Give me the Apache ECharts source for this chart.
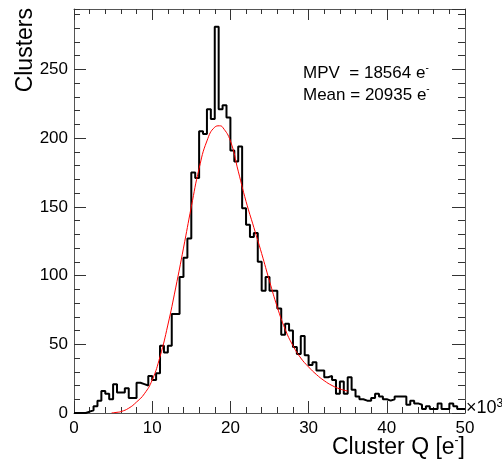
<!DOCTYPE html>
<html>
<head>
<meta charset="utf-8">
<script src="https://cdn.jsdelivr.net/npm/echarts@6/dist/echarts.min.js"></script>
<style>
  html, body { margin: 0; padding: 0; background: #fff; }
  #chart { width: 502px; height: 463px; }
</style>
</head>
<body>
<div id="chart"></div>
<script>
// Cluster charge spectrum: 100 bins of 500 e from 0 to 50 x10^3 e
const binLow = 0;
const binWidth = 0.5;
const counts = [
  0, 0, 0, 1, 2, 5, 9, 16, 14, 10,
  21, 15, 15, 18, 11, 11, 22, 21, 20, 27,
  24, 29, 49, 44, 49, 72, 72, 99, 113, 127,
  175, 171, 205, 203, 221, 214, 281, 221, 224, 215,
  191, 183, 194, 149, 137, 128, 131, 110, 89, 99,
  89, 89, 76, 57, 65, 60, 48, 43, 56, 42,
  35, 37, 31, 31, 26, 27, 24, 14, 23, 14,
  26, 17, 12, 10, 9, 9, 11, 14, 12, 10,
  9, 10, 12, 12, 12, 6, 9, 7, 6, 3,
  5, 3, 3, 7, 3, 3, 7, 5, 3, 3
];

// Fitted curve (x in 10^3 e, y in clusters)
const fitX = [4.8, 5.5, 6, 7, 8, 9, 10, 11, 12, 13, 14, 15, 16, 17, 18, 18.6, 19, 20, 21, 22, 23, 24, 25, 26, 27, 28, 29, 30, 31, 32, 33, 34, 35];
const fitY = [0, 0.5, 1, 3.5, 8, 14, 24, 41, 64, 91, 120, 150, 178, 198, 208, 209, 208, 198, 176, 154, 135, 116, 96, 77, 61, 49, 40, 33.5, 28, 23.5, 20, 17.5, 16];

const xTicksMajor = 10, xTicksMinor = 2, xMax = 50;
const yTicksMajor = 50, yTicksMinor = 10, yMax = 294;

const mpvText = 'MPV  = 18564 e';
const meanText = 'Mean = 20935 e';

const histData = counts.map((c, i) => [binLow + i * binWidth, c]);
histData.push([binLow + counts.length * binWidth, counts[counts.length - 1]]);
const fitData = fitX.map((x, i) => [x, fitY[i]]);

const FONT = '"Liberation Sans", Arial, Helvetica, sans-serif';
const lineCol = '#555';
const tickCol = '#333';

function xAxisDef(pos, interval, len, major) {
  return {
    type: 'value', position: pos, min: 0, max: xMax, interval: interval,
    axisLine: { show: major, onZero: false, lineStyle: { color: lineCol, width: 1 } },
    axisTick: { show: true, inside: true, length: len, lineStyle: { color: tickCol, width: 1 } },
    axisLabel: {
      show: major && pos === 'bottom', margin: 7, color: '#000',
      fontFamily: FONT, fontSize: 17
    },
    splitLine: { show: false }
  };
}
function yAxisDef(pos, interval, len, major) {
  return {
    type: 'value', position: pos, min: 0, max: yMax, interval: interval,
    axisLine: { show: major, onZero: false, lineStyle: { color: lineCol, width: 1 } },
    axisTick: { show: true, inside: true, length: len, lineStyle: { color: tickCol, width: 1 } },
    axisLabel: {
      show: major && pos === 'left', margin: 6, color: '#000', showMaxLabel: false,
      fontFamily: FONT, fontSize: 17
    },
    splitLine: { show: false }
  };
}

const chart = echarts.init(document.getElementById('chart'), null, { renderer: 'canvas' });
chart.setOption({
  animation: false,
  backgroundColor: '#fff',
  grid: { left: 74, right: 37, top: 9, bottom: 50, containLabel: false },
  xAxis: [
    xAxisDef('bottom', xTicksMajor, 12, true),
    xAxisDef('bottom', xTicksMinor, 6, false),
    xAxisDef('top', xTicksMajor, 11, true),
    xAxisDef('top', xTicksMinor, 5, false)
  ],
  yAxis: [
    yAxisDef('left', yTicksMajor, 12, true),
    yAxisDef('left', yTicksMinor, 6, false),
    yAxisDef('right', yTicksMajor, 13, true),
    yAxisDef('right', yTicksMinor, 7, false)
  ],
  series: [
    {
      name: 'Clusters', type: 'line', step: 'end', xAxisIndex: 0, yAxisIndex: 0,
      data: histData, symbol: 'none', clip: true,
      lineStyle: { color: '#000', width: 2 }
    },
    {
      name: 'fit', type: 'line', xAxisIndex: 0, yAxisIndex: 0,
      data: fitData, symbol: 'none', smooth: 0.5,
      lineStyle: { color: '#ff0000', width: 1 }
    }
  ],
  graphic: [
    {
      type: 'text', x: 14, y: 8, rotation: Math.PI / 2,
      style: { text: 'Clusters', font: '23px ' + FONT, fill: '#000', align: 'right', verticalAlign: 'top' }
    },
    {
      type: 'text', x: 465, y: 461,
      style: {
        text: '{t|Cluster Q [e}{s|-}{t|]}', align: 'right', verticalAlign: 'bottom',
        rich: {
          t: { fontFamily: FONT, fontSize: 23, fill: '#000', lineHeight: 26 },
          s: { fontFamily: FONT, fontSize: 12, fill: '#000', verticalAlign: 'top', lineHeight: 26 }
        }
      }
    },
    {
      type: 'text', x: 466, y: 398,
      style: {
        text: '{t|\u00d710}{s|3}', align: 'left', verticalAlign: 'top',
        rich: {
          t: { fontFamily: FONT, fontSize: 18, fill: '#000', lineHeight: 20 },
          s: { fontFamily: FONT, fontSize: 12, fill: '#000', verticalAlign: 'top', lineHeight: 20 }
        }
      }
    },
    {
      type: 'text', x: 303, y: 63,
      style: {
        text: '{t|' + mpvText + '}{s|-}\n{t|' + meanText + '}{s|-}', align: 'left', verticalAlign: 'top',
        rich: {
          t: { fontFamily: FONT, fontSize: 17, fill: '#000', lineHeight: 21.5 },
          s: { fontFamily: FONT, fontSize: 10, fill: '#000', verticalAlign: 'top', lineHeight: 21.5 }
        }
      }
    }
  ]
});
</script>
</body>
</html>
